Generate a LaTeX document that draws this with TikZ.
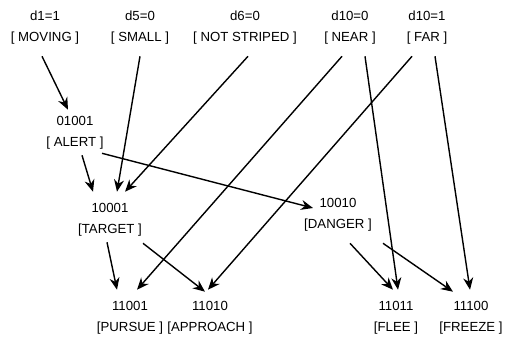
\documentclass[tikz,border=0pt]{standalone}
\usepackage{fontspec}
\setmainfont{Liberation Sans}
\usetikzlibrary{arrows.meta, positioning}

\begin{document}
\begin{tikzpicture}[
    state/.style={align=center, inner sep=0pt, minimum height=1.4cm,
        font=\fontsize{9.4}{15}\selectfont},
    link/.style={-{Stealth[length=3mm, width=2.5mm]}, line width=1pt}
]
\useasboundingbox (0,0) rectangle (12.675,8.475);

% Input features
\node[state] (moving)  at (1.125, 7.775) {d1=1\\{[} MOVING ]};
\node[state] (small)   at (3.5, 7.775)   {d5=0\\{[} SMALL ]};
\node[state] (striped) at (6.125, 7.775) {d6=0\\{[} NOT STRIPED ]};
\node[state] (near)    at (8.75, 7.775)  {d10=0\\{[} NEAR ]};
\node[state] (far)     at (10.675, 7.775) {d10=1\\{[} FAR ]};

% Intermediate states
\node[state] (alert)  at (1.875, 5.15) {01001\\{[} ALERT ]};
\node[state] (target) at (2.75, 2.975) {10001\\{[}TARGET ]};
\node[state] (danger) at (8.45, 3.1)   {10010\\{[}DANGER ]};

% Actions
\node[state] (pursue)   at (3.25, 0.525)   {11001\\{[}PURSUE ]};
\node[state] (approach) at (5.25, 0.525)   {11010\\{[}APPROACH ]};
\node[state] (flee)     at (9.9, 0.525)    {11011\\{[}FLEE ]};
\node[state] (freeze)   at (11.775, 0.525) {11100\\{[}FREEZE ]};

% Feature links
\draw[link] ([xshift=-0.075cm]moving.south) -- ([xshift=-0.175cm, yshift=-0.125cm]alert.north);
\draw[link] (small.south) -- ([xshift=0.175cm]target.north);
\draw[link] ([xshift=0.075cm]striped.south) -- ([xshift=0.375cm]target.north);
\draw[link] ([xshift=-0.2cm]near.south) -- ([xshift=0.175cm]pursue.north);
\draw[link] ([xshift=0.375cm]near.south) -- ([xshift=0.05cm]flee.north);
\draw[link] ([xshift=-0.375cm]far.south) -- ([xshift=-0.05cm]approach.north);
\draw[link] ([xshift=0.2cm]far.south) -- ([xshift=-0.025cm]freeze.north);

% State links
\draw[link] ([xshift=0.175cm, yshift=0.15cm]alert.south) -- ([xshift=-0.425cm]target.north);
\draw[link] ([xshift=0.675cm, yshift=0.2cm]alert.south) -- ([shift={(-0.625,0.175)}]danger.center);
\draw[link] ([xshift=-0.075cm, yshift=0.15cm]target.south) -- ([xshift=-0.325cm]pursue.north);
\draw[link] ([xshift=0.825cm, yshift=0.125cm]target.south) -- ([xshift=-0.125cm, yshift=-0.05cm]approach.north);
\draw[link] ([xshift=0.3cm]danger.south) -- ([xshift=-0.075cm]flee.north);
\draw[link] ([xshift=1.125cm]danger.south) -- ([xshift=-0.45cm, yshift=-0.05cm]freeze.north);
\end{tikzpicture}
\end{document}
